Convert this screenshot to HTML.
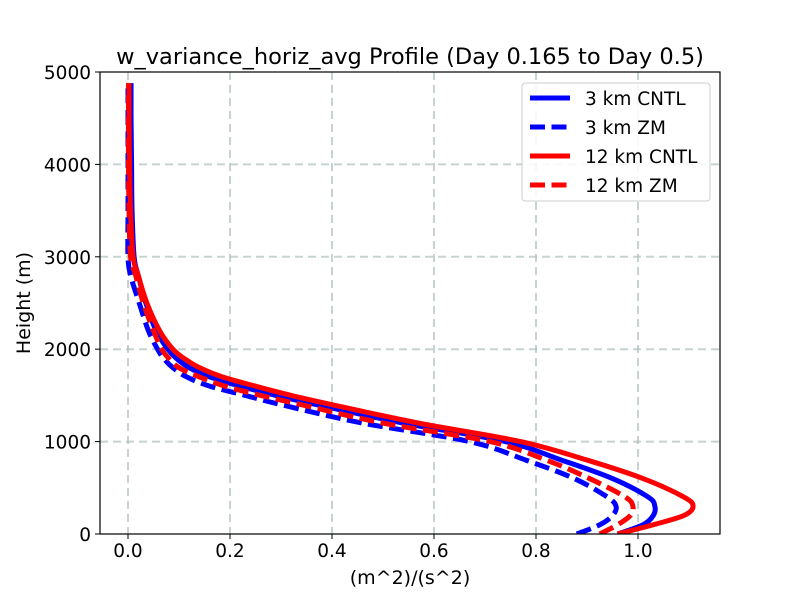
<!DOCTYPE html>
<html><head><meta charset="utf-8"><style>body{margin:0;background:#fff}svg text{font-family:"DejaVu Sans","Liberation Sans",sans-serif}</style></head>
<body>
<svg id="chart" width="800" height="600">
<rect width="800" height="600" fill="#fff"/>
<text x="410" y="64" font-size="22.5" text-anchor="middle">w_variance_horiz_avg Profile (Day 0.165 to Day 0.5)</text>
<g id="grid"></g>
<g id="ticks"></g>
<defs><clipPath id="clip"><rect x="100" y="72" width="620" height="462"/></clipPath></defs>
<g id="series" clip-path="url(#clip)"></g>
<rect x="100" y="72" width="620" height="462" fill="none" stroke="#000" stroke-width="1.2"/>
<text x="410" y="584" font-size="19" text-anchor="middle">(m^2)/(s^2)</text>
<text x="0" y="0" font-size="19" text-anchor="middle" transform="translate(30,303) rotate(-90)">Height (m)</text>
<g id="legend">
<rect x="522" y="83" width="188" height="118" rx="3" fill="#fff" fill-opacity="0.85" stroke="#ccc"/>
</g>
</svg>
<script>
const heights=[0,100,200,300,400,600,800,1000,1200,1400,1500,1600,1700,1800,1900,2000,2200,2500,2800,3000,3500,4000,4500,4880];
const cntl3=[0.96,1.01,1.03,1.033,1.02,0.95,0.85,0.74,0.54,0.37,0.29,0.22,0.16,0.12,0.095,0.078,0.055,0.035,0.02,0.012,0.008,0.007,0.006,0.006];
const zm3=[0.88,0.925,0.95,0.957,0.94,0.875,0.78,0.67,0.46,0.30,0.23,0.16,0.115,0.088,0.07,0.058,0.04,0.022,0.005,0,0,0,0,0];
const cntl12=[0.96,1.03,1.09,1.108,1.09,1.01,0.90,0.77,0.57,0.40,0.32,0.25,0.185,0.14,0.11,0.088,0.062,0.037,0.02,0.01,0.005,0.003,0.002,0.002];
const zm12=[0.925,0.96,0.985,0.99,0.975,0.905,0.82,0.71,0.50,0.34,0.26,0.19,0.14,0.10,0.08,0.066,0.05,0.03,0.015,0.005,0.002,0.001,0.001,0.001];
const xTicks=[0,0.2,0.4,0.6,0.8,1.0];
const xTickLabels=["0.0","0.2","0.4","0.6","0.8","1.0"];
const yTicks=[0,1000,2000,3000,4000,5000];
const seriesNames=["3 km CNTL","3 km ZM","12 km CNTL","12 km ZM"];
const NS="http://www.w3.org/2000/svg";
const X=v=>128+v*510, Y=h=>534-h*0.0924;
function mk(t,a,p){const e=document.createElementNS(NS,t);for(const k in a)e.setAttribute(k,a[k]);p.appendChild(e);return e;}
const grid=document.getElementById('grid'),ticks=document.getElementById('ticks');
xTicks.forEach((v,i)=>{
 const g=mk('line',{x1:X(v),x2:X(v),y1:72,y2:534,stroke:'#b0bfbf','stroke-width':2,'stroke-dasharray':'8,5','opacity':0.7},grid);
 
 mk('line',{x1:X(v),x2:X(v),y1:534,y2:539,stroke:'#000'},ticks);
 const t=mk('text',{x:X(v),y:557,'font-size':18.5,'text-anchor':'middle'},ticks);t.textContent=xTickLabels[i];
 
});
yTicks.forEach(v=>{
 if(v>0&&v<5000){const g=mk('line',{x1:100,x2:720,y1:Y(v),y2:Y(v),stroke:'#b0bfbf','stroke-width':2,'stroke-dasharray':'8,5','opacity':0.7},grid);
 }
 mk('line',{x1:95,x2:100,y1:Y(v),y2:Y(v),stroke:'#000'},ticks);
 const t=mk('text',{x:91,y:Y(v)+7,'font-size':18.5,'text-anchor':'end'},ticks);t.textContent=String(v);
 
});
const ser=document.getElementById('series');
const defs=[[cntl3,'#0000ff',null,'series-3km-cntl'],[zm3,'#0000ff','15,6.5','series-3km-zm'],[cntl12,'#ff0000',null,'series-12km-cntl'],[zm12,'#ff0000','15,6.5','series-12km-zm']];
function smooth(pts){let d='M'+pts[0][0]+','+pts[0][1];for(let i=0;i<pts.length-1;i++){const p0=pts[i-1]||pts[i],p1=pts[i],p2=pts[i+1],p3=pts[i+2]||p2;
 d+=' C'+(p1[0]+(p2[0]-p0[0])/6)+','+(p1[1]+(p2[1]-p0[1])/6)+' '+(p2[0]-(p3[0]-p1[0])/6)+','+(p2[1]-(p3[1]-p1[1])/6)+' '+p2[0]+','+p2[1];}return d;}
defs.forEach(([vals,c,dash,name])=>{
 const pts=vals.map((v,i)=>[X(v),Y(heights[i])]);
 const a={d:smooth(pts),fill:'none',stroke:c,'stroke-width':5};if(dash)a['stroke-dasharray']=dash;
 const p=mk('path',a,ser);
});
const lg=document.getElementById('legend');
defs.forEach(([v,c,dash],i)=>{
 const y=98+i*29;
 const a={x1:530,x2:570,y1:y,y2:y,stroke:c,'stroke-width':5};if(dash)a['stroke-dasharray']='15,6.5';
 const l=mk('line',a,lg);
 const t=mk('text',{x:585,y:y+7,'font-size':18.5},lg);t.textContent=seriesNames[i];
 
});
</script>
</body></html>
